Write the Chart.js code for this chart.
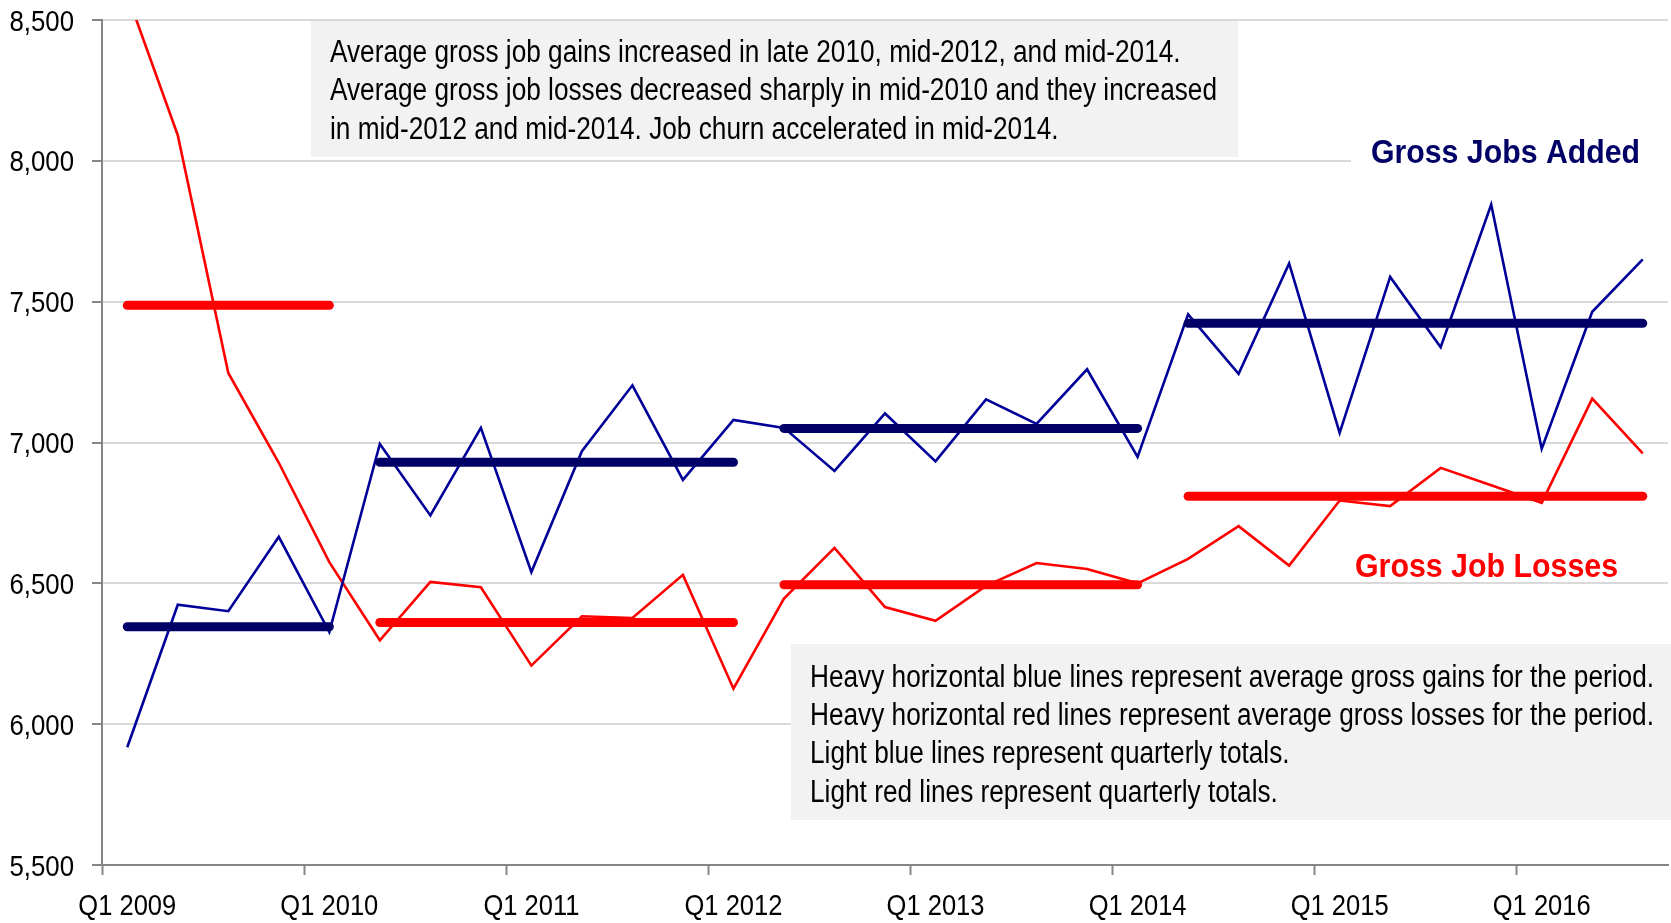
<!DOCTYPE html>
<html>
<head>
<meta charset="utf-8">
<script src="https://cdn.jsdelivr.net/npm/chart.js@4/dist/chart.umd.min.js"></script>
<style>
  html, body { margin: 0; padding: 0; background: #fff; }
  #wrap { width: 1671px; height: 923px; position: relative; }
</style>
</head>
<body>
<div id="wrap"><canvas id="myChart"></canvas></div>
<script>
const quarters = [
  'Q1 2009', 'Q2 2009', 'Q3 2009', 'Q4 2009',
  'Q1 2010', 'Q2 2010', 'Q3 2010', 'Q4 2010',
  'Q1 2011', 'Q2 2011', 'Q3 2011', 'Q4 2011',
  'Q1 2012', 'Q2 2012', 'Q3 2012', 'Q4 2012',
  'Q1 2013', 'Q2 2013', 'Q3 2013', 'Q4 2013',
  'Q1 2014', 'Q2 2014', 'Q3 2014', 'Q4 2014',
  'Q1 2015', 'Q2 2015', 'Q3 2015', 'Q4 2015',
  'Q1 2016', 'Q2 2016', 'Q3 2016'
];

// quarterly totals (thousands)
const jobsAdded = [5918, 6424, 6401, 6665, 6327, 6995, 6741, 7052, 6540, 6969, 7203, 6867, 7080, 7052, 6899, 7103,
  6933, 7153, 7066, 7260, 6949, 7455, 7244, 7636, 7034, 7588, 7338, 7845, 6978, 7464, 7650];
const jobsLost = [8590, 8091, 7247, 6928, 6575, 6298, 6505, 6486, 6208, 6383, 6377, 6530, 6126, 6446, 6626, 6416,
  6367, 6491, 6572, 6551, 6500, 6587, 6703, 6563, 6794, 6774, 6910, 6848, 6786, 7156, 6961];

// period averages
const periodStart = [0, 5, 13, 21];
const periodEnd = [4, 12, 20, 30];
const avgAdded = [6346, 6930, 7050, 7423];
const avgLost = [7487, 6361, 6495, 6809];

const yTicks = [5500, 6000, 6500, 7000, 7500, 8000, 8500];

const topNote = [
  'Average gross job gains increased in late 2010, mid-2012, and mid-2014.',
  'Average gross job losses decreased sharply in mid-2010 and they increased',
  'in mid-2012 and mid-2014. Job churn accelerated in mid-2014.'
];
const bottomNote = [
  'Heavy horizontal blue lines represent average gross gains for the period.',
  'Heavy horizontal red lines represent average gross losses for the period.',
  'Light blue lines represent quarterly totals.',
  'Light red lines represent quarterly totals.'
];

const family = '"Liberation Sans", Arial, sans-serif';
const thinBlue = '#000099';
const heavyBlue = '#000066';
const red = '#ff0000';

function periodData(avg, i) {
  return quarters.map((q, k) => (k >= periodStart[i] && k <= periodEnd[i]) ? avg[i] : null);
}

var datasets = [];
avgAdded.forEach((v, i) => {
  datasets.push({ data: periodData(avgAdded, i), borderColor: heavyBlue, borderWidth: 9, borderCapStyle: 'round' });
});
avgLost.forEach((v, i) => {
  datasets.push({ data: periodData(avgLost, i), borderColor: red, borderWidth: 9, borderCapStyle: 'round' });
});
datasets.push({ data: jobsAdded, borderColor: thinBlue, borderWidth: 2.6 });
datasets.push({ data: jobsLost, borderColor: red, borderWidth: 2.6 });

// narrow-looking text: a normal face squeezed sideways
function squeezed(ctx, text, x, y, align, sx) {
  ctx.save();
  ctx.textAlign = align;
  ctx.textBaseline = 'alphabetic';
  ctx.translate(x, y);
  ctx.scale(sx, 1);
  ctx.fillText(text, 0, 0);
  ctx.restore();
}

// widest line of a block hits the given width
function fitLines(ctx, lines, font, x, baselines, width, color) {
  ctx.font = font;
  var w = Math.max.apply(null, lines.map(l => ctx.measureText(l).width));
  ctx.fillStyle = color;
  lines.forEach((l, i) => squeezed(ctx, l, x, baselines[i], 'left', width / w));
}

const notesPlugin = {
  id: 'notes',
  beforeDatasetsDraw(chart) {
    var ctx = chart.ctx;
    ctx.save();
    ctx.fillStyle = '#f2f2f2';
    ctx.fillRect(311, 21, 927, 136);
    ctx.fillRect(791, 644, 880, 176);
    fitLines(ctx, topNote, '31px ' + family, 330, [61.5, 100, 138.5], 887, '#000');
    fitLines(ctx, bottomNote, '31px ' + family, 810, [687, 725, 763, 801.5], 844, '#000');
    ctx.fillStyle = '#fff';
    ctx.fillRect(1351, 128, 320, 46);
    fitLines(ctx, ['Gross Jobs Added'], 'bold 34px ' + family, 1371, [162.7], 269, heavyBlue);
    fitLines(ctx, ['Gross Job Losses'], 'bold 34px ' + family, 1355, [577.3], 263, red);
    ctx.restore();
  },
  afterDraw(chart) {
    // axis labels, placed by the chart's own scales
    var ctx = chart.ctx;
    var xs = chart.scales.x, ys = chart.scales.y;
    ctx.save();
    ctx.font = '29px ' + family;
    ctx.fillStyle = '#000';
    yTicks.forEach(v => {
      squeezed(ctx, v.toLocaleString('en-US'), ys.right - 28, ys.getPixelForValue(v) + 10.5, 'right', 0.89);
    });
    quarters.forEach((q, i) => {
      if (i % 4 !== 0) return;
      squeezed(ctx, q, xs.getPixelForValue(i), chart.chartArea.bottom + 50, 'center', 0.88);
    });
    ctx.restore();
  }
};

var ctx = document.getElementById('myChart').getContext('2d');
var myChart = new Chart(ctx, {
  type: 'line',
  data: { labels: quarters, datasets: datasets },
  options: {
    responsive: true,
    maintainAspectRatio: false,
    animation: false,
    layout: { padding: { top: 20, right: 3, left: 0, bottom: 0 } },
    elements: { point: { radius: 0 }, line: { tension: 0 } },
    plugins: { legend: { display: false }, tooltip: { enabled: false } },
    scales: {
      x: {
        type: 'category',
        offset: true,
        afterFit: (scale) => { scale.height = 58; scale.paddingLeft = 0; scale.paddingRight = 0; },
        border: { color: '#868686', width: 2 },
        grid: {
          offset: true,
          drawOnChartArea: false,
          tickLength: 10,
          tickWidth: 2,
          tickColor: (c) => (c.index !== undefined && c.index % 4 === 0) ? '#868686' : 'rgba(0,0,0,0)'
        },
        ticks: { display: false, autoSkip: false }
      },
      y: {
        min: yTicks[0],
        max: yTicks[yTicks.length - 1],
        afterFit: (scale) => { scale.width = 102; scale.paddingTop = 0; scale.paddingBottom = 0; },
        afterBuildTicks: (scale) => { scale.ticks = yTicks.map(v => ({ value: v })); },
        border: { color: '#868686', width: 2 },
        grid: { color: '#d9d9d9', lineWidth: 2, tickColor: '#868686', tickLength: 10 },
        ticks: { display: false }
      }
    }
  },
  plugins: [notesPlugin]
});
</script>
</body>
</html>
